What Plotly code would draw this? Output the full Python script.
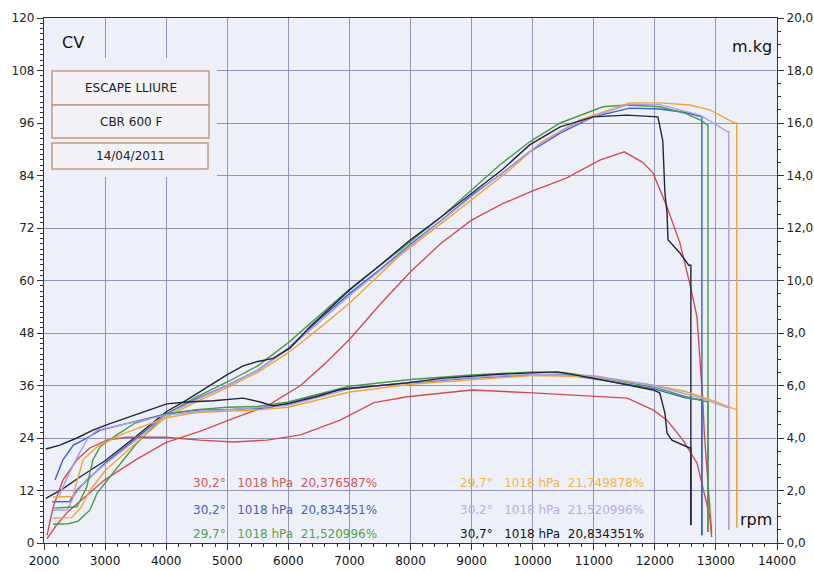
import plotly.graph_objects as go

# ---------------- data ----------------
# power in CV (left axis), torque in m.kg (right axis)
red_p_rpm = [2050, 2200, 2380, 2700, 3000, 3500, 4000, 4550, 5100, 5650, 6200, 6600, 7000, 7500, 8000, 8500, 9000, 9500, 10000, 10550, 11100, 11500, 11800, 11970, 12200, 12410, 12570, 12690, 12740, 12785, 12810, 12850, 12900, 12930]
red_p = [1.0, 4.0, 7.0, 10.8, 14.5, 19.0, 23.0, 25.5, 28.5, 31.3, 36.0, 41.0, 46.5, 54.5, 62.0, 68.5, 73.8, 77.5, 80.5, 83.4, 87.5, 89.4, 87.0, 84.6, 76.8, 68.6, 59.4, 51.7, 41.8, 32.7, 25.1, 17.4, 7.5, 2.3]
red_t_rpm = [2050, 2150, 2310, 2540, 2750, 3030, 3360, 4000, 4550, 5100, 5650, 6200, 6850, 7400, 7950, 8500, 9000, 10000, 10950, 11550, 11800, 11970, 12200, 12460, 12690, 12785, 12900, 12930]
red_t = [0.30, 1.37, 2.40, 3.17, 3.62, 3.92, 4.03, 4.03, 3.92, 3.85, 3.92, 4.12, 4.68, 5.35, 5.57, 5.72, 5.83, 5.72, 5.60, 5.52, 5.25, 5.07, 4.68, 3.92, 3.05, 2.13, 1.00, 0.23]

blk_p_rpm = [2030, 2300, 2600, 3000, 3500, 4000, 4340, 4670, 5000, 5260, 5500, 5750, 6030, 6350, 7000, 7500, 8000, 8500, 9000, 9500, 9950, 10450, 10990, 11540, 12050, 12130, 12165, 12200, 12215, 12410, 12555, 12590, 12590]
blk_p = [10.2, 12.3, 15.2, 18.8, 24.3, 30.0, 32.7, 35.7, 38.5, 40.5, 41.5, 42.2, 44.6, 49.4, 57.8, 63.5, 69.3, 74.5, 80.0, 85.3, 91.0, 95.1, 97.4, 97.8, 97.4, 92.0, 80.0, 75.4, 69.3, 66.3, 63.5, 63.5, 4.1]
blk_t_rpm = [2030, 2260, 2540, 2800, 3080, 3570, 4010, 4340, 4770, 5260, 5540, 5750, 6030, 6500, 6850, 7940, 8500, 9460, 10400, 10990, 11500, 11970, 12080, 12165, 12200, 12280, 12570, 12590, 12590]
blk_t = [3.58, 3.73, 4.00, 4.30, 4.55, 4.95, 5.30, 5.37, 5.42, 5.52, 5.37, 5.22, 5.33, 5.60, 5.85, 6.10, 6.27, 6.43, 6.52, 6.28, 6.05, 5.83, 5.72, 4.95, 4.18, 3.92, 3.62, 3.62, 0.68]

blue_p_rpm = [2130, 2420, 2550, 2750, 3000, 3500, 4000, 4500, 5000, 5500, 6000, 6500, 7000, 7500, 8000, 8500, 9000, 9500, 9950, 10450, 10990, 11590, 12080, 12500, 12770, 12770]
blue_p = [9.4, 9.5, 12.3, 15.0, 18.3, 23.8, 29.5, 33.0, 36.0, 39.5, 44.5, 51.0, 57.0, 62.5, 68.3, 73.7, 79.5, 84.5, 89.4, 93.7, 97.4, 99.4, 99.2, 98.4, 97.4, 1.8]
blue_t_rpm = [2180, 2310, 2480, 2640, 2920, 3460, 4000, 4550, 5000, 5650, 6000, 6350, 6980, 7990, 9000, 9990, 10500, 11100, 11970, 12500, 12770, 12770]
blue_t = [2.40, 3.17, 3.73, 3.92, 4.30, 4.62, 4.92, 5.07, 5.08, 5.15, 5.30, 5.57, 5.90, 6.10, 6.28, 6.40, 6.43, 6.22, 5.88, 5.53, 5.45, 0.30]

green_p_rpm = [2150, 2400, 2560, 2750, 2870, 3030, 3500, 4000, 4500, 5000, 5500, 6000, 6500, 7000, 7830, 8500, 9000, 9460, 9950, 10450, 11150, 11540, 12080, 12500, 12740, 12870, 12870]
green_p = [4.3, 4.4, 5.0, 7.5, 11.4, 14.2, 22.5, 29.5, 33.4, 36.8, 40.5, 45.8, 51.8, 58.0, 67.0, 74.5, 80.7, 86.4, 91.7, 96.0, 99.7, 100.1, 99.7, 98.2, 96.7, 95.5, 2.5]
green_t_rpm = [2150, 2540, 2700, 2800, 2920, 3190, 3500, 4000, 4500, 5000, 5500, 6000, 7000, 8000, 9000, 10000, 10500, 11000, 12000, 12500, 12870, 12870]
green_t = [1.33, 1.38, 2.13, 3.17, 3.67, 4.12, 4.58, 4.92, 5.08, 5.17, 5.20, 5.37, 5.97, 6.23, 6.40, 6.52, 6.50, 6.33, 5.93, 5.58, 5.37, 0.42]

orange_p_rpm = [2150, 2450, 2600, 2750, 3000, 3500, 4000, 4500, 5000, 5500, 6000, 6500, 7000, 7830, 8500, 9000, 9630, 10120, 10770, 11590, 12080, 12570, 12900, 13310, 13340, 13340]
orange_p = [5.7, 5.8, 8.0, 12.0, 16.5, 22.8, 28.8, 32.3, 35.5, 39.0, 43.5, 49.0, 54.8, 65.8, 73.0, 78.4, 85.3, 91.4, 96.7, 100.6, 100.6, 100.1, 99.0, 96.0, 96.0, 3.4]
orange_t_rpm = [2150, 2470, 2640, 2870, 3300, 3700, 4000, 4500, 5000, 5500, 6000, 7000, 8000, 9000, 10000, 11000, 12000, 12500, 13000, 13340, 13340]
orange_t = [1.75, 1.77, 3.17, 3.67, 4.17, 4.53, 4.77, 4.97, 5.03, 5.07, 5.17, 5.75, 6.05, 6.22, 6.38, 6.33, 6.00, 5.77, 5.38, 5.07, 0.57]

lav_p_rpm = [2150, 2380, 2500, 2700, 3000, 3500, 4000, 4500, 5000, 5500, 6000, 6500, 7000, 8000, 9000, 10000, 10500, 11000, 11590, 12080, 12740, 13195, 13210, 13210]
lav_p = [7.5, 7.6, 11.0, 14.5, 18.0, 23.5, 29.3, 32.8, 36.0, 39.5, 44.3, 50.5, 56.5, 68.0, 79.2, 90.0, 94.5, 97.5, 100.3, 100.2, 97.8, 94.0, 94.0, 3.0]
lav_t_rpm = [2250, 2380, 2540, 2720, 2870, 3200, 3600, 4000, 4500, 5000, 6000, 7000, 8000, 9000, 10000, 11000, 12000, 12740, 13200, 13210, 13210]
lav_t = [1.80, 2.50, 3.25, 4.00, 4.30, 4.47, 4.67, 4.87, 5.00, 5.07, 5.25, 5.87, 6.13, 6.30, 6.43, 6.37, 6.00, 5.53, 5.15, 5.15, 0.50]

x_ticks = [2000, 3000, 4000, 5000, 6000, 7000, 8000, 9000, 10000, 11000, 12000, 13000, 14000]
y_ticks = [0, 12, 24, 36, 48, 60, 72, 84, 96, 108, 120]
y2_ticks = [0, 2, 4, 6, 8, 10, 12, 14, 16, 18, 20]
y2_labels = ["0,0", "2,0", "4,0", "6,0", "8,0", "10,0", "12,0", "14,0", "16,0", "18,0", "20,0"]

legend_rows = [
    ("30,2°", "1018 hPa", "20,376587%"),
    ("30,2°", "1018 hPa", "20,834351%"),
    ("29,7°", "1018 hPa", "21,520996%"),
    ("29,7°", "1018 hPa", "21,749878%"),
    ("30,2°", "1018 hPa", "21,520996%"),
    ("30,7°", "1018 hPa", "20,834351%"),
]
box_texts = ["ESCAPE LLIURE", "CBR 600 F", "14/04/2011"]

# ---------------- styles ----------------
C_RED, C_BLUE, C_GREEN = "#d24e4e", "#3d5fcc", "#4a9a48"
C_ORANGE, C_LAV, C_BLK = "#f0a53a", "#a99ee6", "#23233d"
T_COLORS = ["#d05858", "#4563c2", "#55a050", "#f2b545", "#b5ade6", "#151515"]

series = [
    (red_p_rpm, red_p, red_t_rpm, red_t, C_RED),
    (blue_p_rpm, blue_p, blue_t_rpm, blue_t, C_BLUE),
    (green_p_rpm, green_p, green_t_rpm, green_t, C_GREEN),
    (orange_p_rpm, orange_p, orange_t_rpm, orange_t, C_ORANGE),
    (lav_p_rpm, lav_p, lav_t_rpm, lav_t, C_LAV),
    (blk_p_rpm, blk_p, blk_t_rpm, blk_t, C_BLK),
]

fig = go.Figure()
for prpm, p, trpm, t, col in series:
    fig.add_trace(go.Scatter(x=prpm, y=p, mode="lines", line=dict(color=col, width=1.4),
                             yaxis="y", hoverinfo="skip"))
    fig.add_trace(go.Scatter(x=trpm, y=t, mode="lines", line=dict(color=col, width=1.4),
                             yaxis="y2", hoverinfo="skip"))

W, H = 814, 572
ML, MR, MT, MB = 44, 37, 18, 29
PW, PH = W - ML - MR, H - MT - MB


def px(xp):
    return (xp - ML) / PW


def py(yp):
    return (H - MB - yp) / PH


PLOT_BG = "#eef0f9"
GRID = "#9495b6"
AX = "#333333"
FONT = "DejaVu Sans"

shapes = [
    dict(type="rect", xref="paper", yref="paper", x0=px(44), x1=px(217), y0=py(177), y1=py(58),
         fillcolor=PLOT_BG, line=dict(width=0), layer="above"),
]
cells = [(71, 105), (105, 138), (143, 169)]
for i, (a, b) in enumerate(cells):
    shapes.append(dict(type="rect", xref="paper", yref="paper", x0=px(52), x1=px(209 if i < 2 else 208),
                       y0=py(b), y1=py(a), fillcolor="#f2f2f7",
                       line=dict(color="#c49a82", width=1.5), layer="above"))

annotations = []
for i, (a, b) in enumerate(cells):
    annotations.append(dict(text=box_texts[i], xref="paper", yref="paper", x=px(130.5), y=py((a + b) / 2),
                            xanchor="center", yanchor="middle", showarrow=False,
                            font=dict(family=FONT, size=12, color="#222")))
annotations += [
    dict(text="CV", xref="paper", yref="paper", x=px(60), y=py(42), xanchor="left", yanchor="middle",
         showarrow=False, font=dict(family=FONT, size=16, color="#111")),
    dict(text="m.kg", xref="paper", yref="paper", x=px(774), y=py(47), xanchor="right", yanchor="middle",
         showarrow=False, font=dict(family=FONT, size=16, color="#111")),
    dict(text="rpm", xref="paper", yref="paper", x=px(774), y=py(519), xanchor="right", yanchor="middle",
         showarrow=False, font=dict(family=FONT, size=16, color="#111")),
]
NB = "\u00a0"
leg_pos = [(191, 483), (191, 510), (191, 534), (458, 483), (458, 510), (458, 534)]
for (t1, t2, t3), (lx, ly), col in zip(legend_rows, leg_pos, T_COLORS):
    annotations.append(dict(text=t1 + NB * 3 + t2 + NB * 2 + t3, xref="paper", yref="paper",
                            x=px(lx), y=py(ly), xanchor="left", yanchor="middle", showarrow=False,
                            font=dict(family=FONT, size=12, color=col)))

fig.update_layout(
    width=W, height=H, margin=dict(l=ML, r=MR, t=MT, b=MB, autoexpand=False),
    paper_bgcolor="white", plot_bgcolor=PLOT_BG, showlegend=False,
    font=dict(family=FONT, size=12, color="#222"),
    shapes=shapes, annotations=annotations,
    xaxis=dict(range=[2000, 14000], tickvals=x_ticks, ticktext=[str(v) for v in x_ticks],
               showgrid=True, gridcolor=GRID, gridwidth=1, zeroline=False, automargin=False,
               ticks="outside", ticklen=6, tickcolor=AX, showline=True, linecolor=AX, linewidth=1.2,
               mirror=True, tickfont=dict(family=FONT, size=12, color="#111"),
               minor=dict(ticks="outside", ticklen=3, dtick=200, tick0=2000, tickcolor=AX, showgrid=False)),
    yaxis=dict(range=[0, 120], tickvals=y_ticks, showgrid=True, gridcolor=GRID, gridwidth=1, zeroline=False,
               automargin=False,
               ticks="outside", ticklen=6, tickcolor=AX, showline=True, linecolor=AX, linewidth=1.2,
               tickfont=dict(family=FONT, size=12, color="#222"),
               minor=dict(ticks="outside", ticklen=3, dtick=1.2, tick0=0, tickcolor=AX, showgrid=False)),
    yaxis2=dict(range=[0, 20], overlaying="y", side="right", tickvals=y2_ticks, ticktext=y2_labels,
                showgrid=False, zeroline=False, automargin=False, ticks="outside", ticklen=6, tickcolor=AX,
                showline=True, linecolor=AX, linewidth=1.2,
                tickfont=dict(family=FONT, size=12, color="#222"),
                minor=dict(ticks="outside", ticklen=3, dtick=0.5, tick0=0, tickcolor=AX, showgrid=False)),
)

fig.write_html("out.html", config={"displayModeBar": False},
               post_script="document.body.style.margin='0';document.body.style.overflow='hidden';")
